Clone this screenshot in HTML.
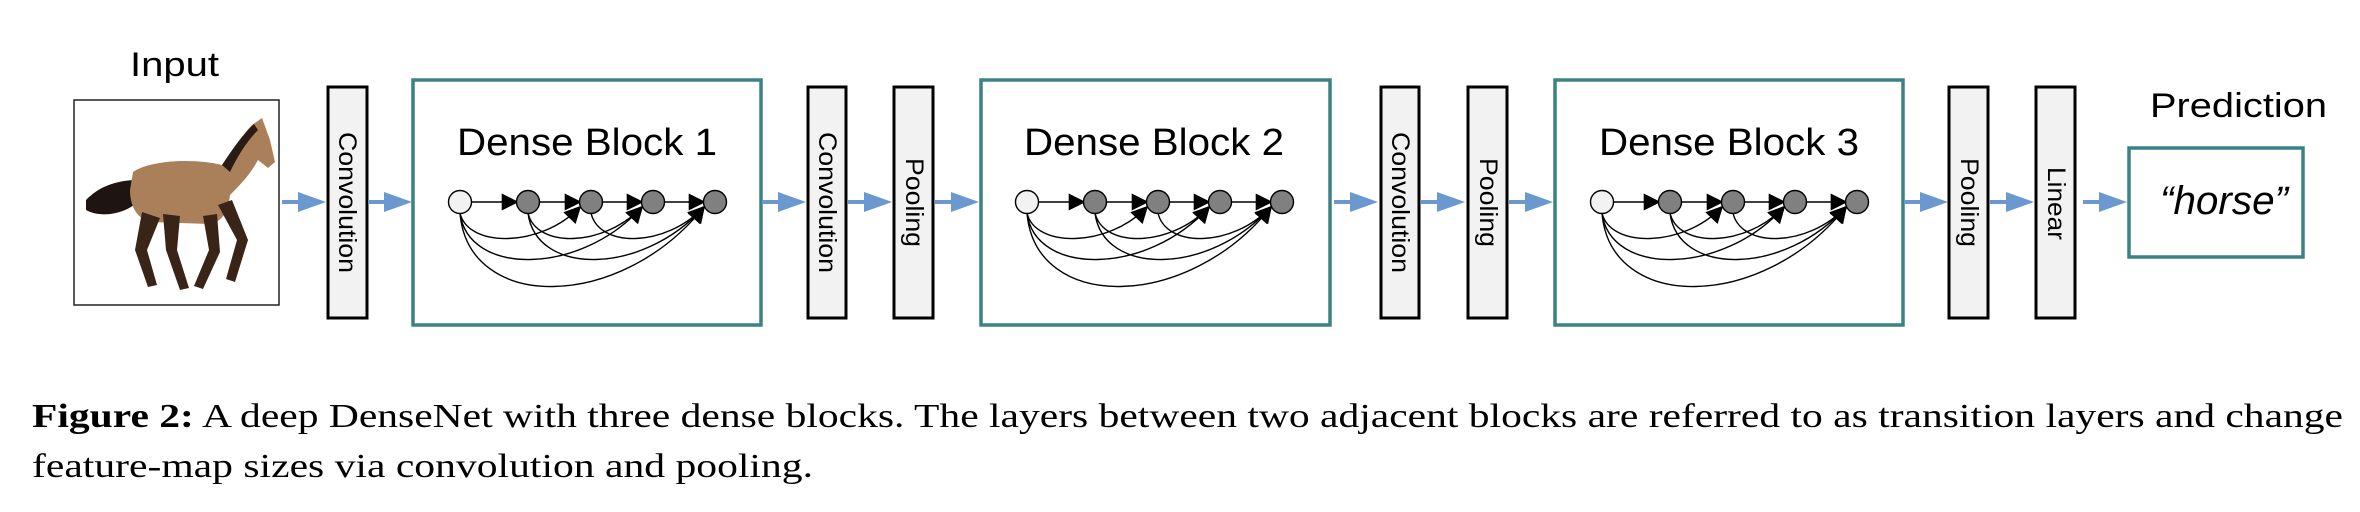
<!DOCTYPE html>
<html><head><meta charset="utf-8"><style>
html,body{margin:0;padding:0;background:#fff;}
svg{display:block;}
</style></head><body>
<svg width="2360" height="512" viewBox="0 0 2360 512" xmlns="http://www.w3.org/2000/svg">
<defs>
<marker id="ah" viewBox="0 0 10 10" refX="9" refY="5" markerUnits="userSpaceOnUse" markerWidth="19" markerHeight="17" orient="auto">
<path d="M0,0 L10,5 L0,10 z" fill="#000"/></marker>
<g id="arr"><line x1="0" y1="0" x2="18" y2="0" stroke="#6a98cf" stroke-width="4"/><path d="M16,-10 L44,0 L16,10 z" fill="#6a98cf"/></g>
<g id="net" fill="none" stroke="#000" stroke-width="1.4">
<path d="M460,213 C468,248 541,248 580,207" marker-end="url(#ah)"/>
<path d="M528,213 C536,248 603,248 642,207" marker-end="url(#ah)"/>
<path d="M591,213 C599,248 665,248 704,207" marker-end="url(#ah)"/>
<path d="M460,213 C468,276 580,276 642,207" marker-end="url(#ah)"/>
<path d="M528,213 C536,276 642,276 704,207" marker-end="url(#ah)"/>
<path d="M460,213 C468,312 620,312 704,207" marker-end="url(#ah)"/>
<line x1="471" y1="202" x2="517" y2="202" marker-end="url(#ah)"/>
<line x1="539" y1="202" x2="580" y2="202" marker-end="url(#ah)"/>
<line x1="602" y1="202" x2="642" y2="202" marker-end="url(#ah)"/>
<line x1="664" y1="202" x2="704" y2="202" marker-end="url(#ah)"/>
<circle cx="460" cy="202" r="11.5" fill="#f2f2f2"/>
<circle cx="528" cy="202" r="11.5" fill="#808080"/>
<circle cx="591" cy="202" r="11.5" fill="#808080"/>
<circle cx="653" cy="202" r="11.5" fill="#808080"/>
<circle cx="715" cy="202" r="11.5" fill="#808080"/>
</g>
</defs>

<g font-family="Liberation Sans, sans-serif" fill="#000">
<text x="130" y="76" font-size="34" textLength="89" lengthAdjust="spacingAndGlyphs">Input</text>
<text x="2150" y="117" font-size="34" textLength="177" lengthAdjust="spacingAndGlyphs">Prediction</text>
</g>

<!-- horse image -->
<rect x="74" y="100" width="205" height="205" fill="#fff" stroke="#222" stroke-width="1.5"/>
<g>
<path d="M86,200 C100,185 120,180 137,180 L140,200 C125,215 100,218 86,210 z" fill="#1e1512"/>
<path d="M133,172 C150,160 195,158 222,165 C235,150 242,135 252,125 L262,118 L270,140 L275,162 L268,168 L258,160 C250,175 240,185 230,195 C228,212 222,222 210,224 L150,222 C136,218 130,205 130,190 z" fill="#a9805a"/>
<path d="M222,165 C232,150 242,135 254,124 L258,130 C248,140 238,155 230,172 z" fill="#2a1c14"/>
<path d="M142,212 L135,250 L148,287 L157,285 L147,250 L160,218 z" fill="#3a2418"/>
<path d="M163,214 L166,250 L180,290 L189,288 L177,250 L180,216 z" fill="#3a2418"/>
<path d="M203,216 L209,250 L194,286 L203,289 L220,252 L217,214 z" fill="#3a2418"/>
<path d="M218,205 L237,240 L226,279 L235,282 L248,240 L232,200 z" fill="#3a2418"/>
</g>

<!-- bars -->
<g fill="#f2f2f2" stroke="#000" stroke-width="3">
<rect x="328" y="87" width="39" height="231"/>
<rect x="808" y="87" width="38" height="231"/>
<rect x="894" y="87" width="39" height="231"/>
<rect x="1381" y="87" width="38" height="231"/>
<rect x="1468" y="87" width="39" height="231"/>
<rect x="1949" y="87" width="39" height="231"/>
<rect x="2036" y="87" width="39" height="231"/>
</g>
<g font-family="Liberation Sans, sans-serif" font-size="25" fill="#000">
<text transform="translate(339,132) rotate(90)" textLength="141" lengthAdjust="spacingAndGlyphs">Convolution</text>
<text transform="translate(819,132) rotate(90)" textLength="141" lengthAdjust="spacingAndGlyphs">Convolution</text>
<text transform="translate(906,158) rotate(90)" textLength="89" lengthAdjust="spacingAndGlyphs">Pooling</text>
<text transform="translate(1392,132) rotate(90)" textLength="141" lengthAdjust="spacingAndGlyphs">Convolution</text>
<text transform="translate(1480,158) rotate(90)" textLength="89" lengthAdjust="spacingAndGlyphs">Pooling</text>
<text transform="translate(1961,158) rotate(90)" textLength="89" lengthAdjust="spacingAndGlyphs">Pooling</text>
<text transform="translate(2048,167) rotate(90)" textLength="73" lengthAdjust="spacingAndGlyphs">Linear</text>
</g>

<!-- blocks -->
<g fill="#fff" stroke="#3b8282" stroke-width="3.5">
<rect x="413" y="80" width="348" height="245"/>
<rect x="981" y="80" width="349" height="245"/>
<rect x="1555" y="80" width="348" height="245"/>
<rect x="2129" y="148" width="174" height="109"/>
</g>
<g font-family="Liberation Sans, sans-serif" font-size="38" fill="#000">
<text x="457" y="155" textLength="260" lengthAdjust="spacingAndGlyphs">Dense Block 1</text>
<text x="1024" y="155" textLength="260" lengthAdjust="spacingAndGlyphs">Dense Block 2</text>
<text x="1599" y="155" textLength="260" lengthAdjust="spacingAndGlyphs">Dense Block 3</text>
<text x="2160" y="214" font-style="italic" font-size="40" textLength="128" lengthAdjust="spacingAndGlyphs">“horse”</text>
</g>
<use href="#net"/>
<use href="#net" transform="translate(567,0)"/>
<use href="#net" transform="translate(1142,0)"/>

<!-- blue arrows -->
<g transform="translate(0,202)">
<use href="#arr" transform="translate(282,0)"/>
<use href="#arr" transform="translate(368,0)"/>
<use href="#arr" transform="translate(762,0)"/>
<use href="#arr" transform="translate(848,0)"/>
<use href="#arr" transform="translate(935,0)"/>
<use href="#arr" transform="translate(1334,0)"/>
<use href="#arr" transform="translate(1421,0)"/>
<use href="#arr" transform="translate(1509,0)"/>
<use href="#arr" transform="translate(1904,0)"/>
<use href="#arr" transform="translate(1990,0)"/>
<use href="#arr" transform="translate(2083,0)"/>
</g>

<!-- caption -->
<g font-family="Liberation Serif, serif" font-size="34" fill="#000">
<text x="32" y="427" textLength="2311" lengthAdjust="spacingAndGlyphs"><tspan font-weight="bold">Figure 2:</tspan> A deep DenseNet with three dense blocks. The layers between two adjacent blocks are referred to as transition layers and change</text>
<text x="32" y="477" textLength="781" lengthAdjust="spacingAndGlyphs">feature-map sizes via convolution and pooling.</text>
</g>
</svg>
</body></html>
